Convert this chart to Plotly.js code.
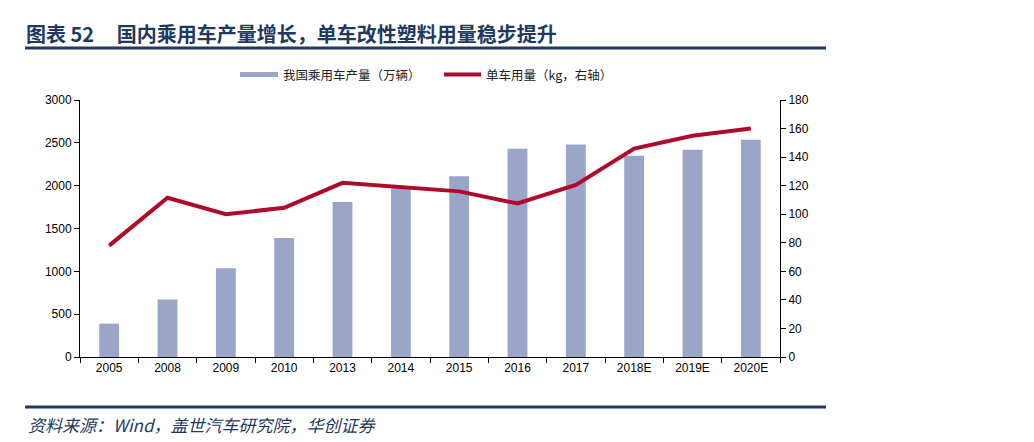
<!DOCTYPE html>
<html>
<head>
<meta charset="utf-8">
<script src="https://cdn.plot.ly/plotly-3.0.1.min.js"></script>
<style>html,body{margin:0;padding:0;background:#fff;}#chart{width:1034px;height:442px;}</style>
</head>
<body>
<div id="chart"></div>
<script>
var categories = ["2005","2008","2009","2010","2013","2014","2015","2016","2017","2018E","2019E","2020E"];
var production = [390, 670, 1035, 1390, 1810, 1970, 2110, 2430, 2480, 2350, 2420, 2535];
var plasticPerCar = [78, 111.5, 100, 104.5, 122, 119, 116, 107.5, 120.5, 146, 155, 160];
var seriesNames = ["我国乘用车产量（万辆）", "单车用量（kg，右轴）"];
var titleText = "图表 52\u00a0\u00a0\u00a0\u00a0\u00a0国内乘用车产量增长，单车改性塑料用量稳步提升";
var sourceText = "资料来源：Wind，盖世汽车研究院，华创证券";

var L = 80, R = 780, T = 100, B = 357, W = 1034, H = 442;
function px(p){ return (p - L) / (R - L); }
function py(p){ return (B - p) / (B - T); }

var navy = "#1f3a60";
var barColor = "#9aa5c8";
var lineColor = "#b00a2a";
var tickFont = {family: "Liberation Sans, Arial, sans-serif", size: 12, color: "#000"};
var cjk = "Noto Sans CJK SC, sans-serif";

var traces = [
  {type: "bar", x: categories, y: production, name: seriesNames[0], marker: {color: barColor}, yaxis: "y", showlegend: false, hoverinfo: "skip"},
  {type: "scatter", mode: "lines", x: categories, y: plasticPerCar, name: seriesNames[1], line: {color: lineColor, width: 4}, yaxis: "y2", showlegend: false, hoverinfo: "skip"}
];

var layout = {
  width: W, height: H,
  margin: {l: L, r: W - R, t: T, b: H - B, pad: 0},
  paper_bgcolor: "#fff", plot_bgcolor: "#fff",
  bargap: 0.66,
  showlegend: false,
  title: {text: "<b>" + titleText + "</b>", font: {family: cjk, size: 20, color: navy}, xref: "container", yref: "container", x: 26 / W, xanchor: "left", y: 1 - 35 / H, yanchor: "middle"},
  xaxis: {type: "category", showline: true, linecolor: "#000", linewidth: 1, ticks: "outside", ticklen: 5, tickcolor: "#000", tickson: "boundaries", showgrid: false, zeroline: false, tickfont: tickFont, fixedrange: true},
  yaxis: {range: [0, 3000], dtick: 500, showline: true, linecolor: "#000", linewidth: 1, ticks: "outside", ticklen: 5, tickcolor: "#000", showgrid: false, zeroline: false, tickfont: tickFont, fixedrange: true},
  yaxis2: {range: [0, 180], dtick: 20, overlaying: "y", side: "right", showline: true, linecolor: "#000", linewidth: 1, ticks: "outside", ticklen: 5, tickcolor: "#000", showgrid: false, zeroline: false, tickfont: tickFont, fixedrange: true},
  shapes: [
    {type: "line", xref: "paper", yref: "paper", x0: px(25), x1: px(826), y0: py(48), y1: py(48), line: {color: navy, width: 3}},
    {type: "line", xref: "paper", yref: "paper", x0: px(25), x1: px(826), y0: py(407), y1: py(407), line: {color: navy, width: 3}},
    {type: "rect", xref: "paper", yref: "paper", x0: px(240), x1: px(278), y0: py(77), y1: py(72), fillcolor: barColor, line: {width: 0}},
    {type: "line", xref: "paper", yref: "paper", x0: px(444), x1: px(481), y0: py(74.5), y1: py(74.5), line: {color: lineColor, width: 4}}
  ],
  annotations: [
    {xref: "paper", yref: "paper", x: px(281), y: py(74.5), xanchor: "left", yanchor: "middle", text: seriesNames[0], showarrow: false, font: {family: cjk, size: 12.5, color: "#222"}},
    {xref: "paper", yref: "paper", x: px(484), y: py(74.5), xanchor: "left", yanchor: "middle", text: seriesNames[1], showarrow: false, font: {family: cjk, size: 12.5, color: "#222"}},
    {xref: "paper", yref: "paper", x: px(26), y: py(424), xanchor: "left", yanchor: "middle", text: "<i>" + sourceText + "</i>", showarrow: false, font: {family: cjk, size: 17, color: navy}}
  ]
};

Plotly.newPlot("chart", traces, layout, {displayModeBar: false, staticPlot: true});
</script>
</body>
</html>
